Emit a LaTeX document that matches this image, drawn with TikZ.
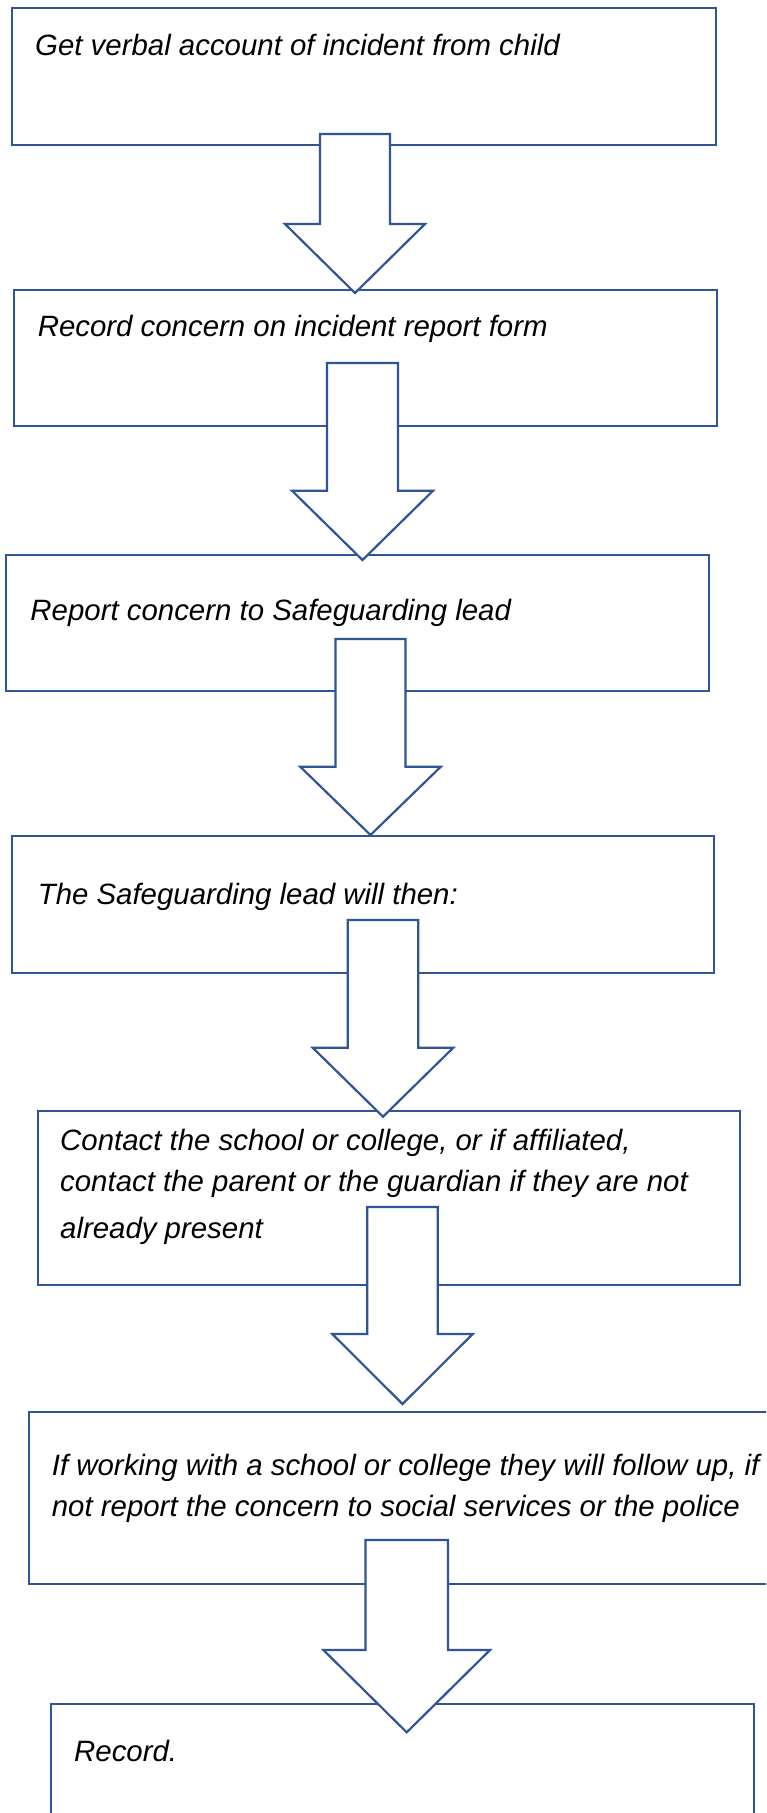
\documentclass[tikz,border=0pt]{standalone}
\usepackage{fontspec}
\setmainfont{Liberation Sans}
\definecolor{boxblue}{RGB}{47,85,151}
\newcommand\blockarr[6]{% cx, shaft top, head base, tip, half shaft, half head
  \draw[arrowline] (#1-#5,#2) -- (#1+#5,#2) -- (#1+#5,#3) -- (#1+#6,#3) -- (#1,#4) -- (#1-#6,#3) -- (#1-#5,#3) -- cycle;}
\begin{document}
\begin{tikzpicture}[x=1pt,y=-1pt,
  flowbox/.style={draw=boxblue,line width=2.2pt,fill=white,anchor=north west,inner sep=0pt,outer sep=0pt},
  arrowline/.style={draw=boxblue,line width=2.2pt,fill=white,line join=miter},
  label/.style={anchor=base west,inner sep=0pt,font=\fontsize{29.4}{34}\selectfont\itshape}]
\useasboundingbox (0,0) rectangle (766,1813);
\clip (0,0) rectangle (766,1813);
% boxes
\node[flowbox,minimum width=703.5pt,minimum height=136.7pt] (b1) at (12.2,8.3) {};
\node[flowbox,minimum width=703pt,minimum height=135.7pt] (b2) at (13.7,290) {};
\node[flowbox,minimum width=703.1pt,minimum height=136pt] (b3) at (5.9,555) {};
\node[flowbox,minimum width=702pt,minimum height=136.7pt] (b4) at (12.2,836) {};
\node[flowbox,minimum width=702.4pt,minimum height=174.3pt] (b5) at (37.6,1110.7) {};
\node[flowbox,minimum width=760pt,minimum height=172.3pt] (b6) at (29,1411.7) {};
\node[flowbox,minimum width=703pt,minimum height=140pt] (b7) at (50.8,1704) {};
% texts
\node[label] (t1) at (35,55) {Get verbal account of incident from child};
\node[label] (t2) at (37.6,336.7) {Record concern on incident report form};
\node[label] (t3) at (30.3,620) {Report concern to Safeguarding lead};
\node[label] (t4) at (37.6,904) {The Safeguarding lead will then:};
\node[label] (t5a) at (60,1150.7) {Contact the school or college, or if affiliated,};
\node[label] (t5b) at (60,1191) {contact the parent or the guardian if they are not};
\node[label] (t5c) at (60,1238) {already present};
\node[label] (t6a) at (51.7,1475) {If working with a school or college they will follow up, if};
\node[label] (t6b) at (51.7,1516) {not report the concern to social services or the police};
\node[label] (t7) at (74,1761.7) {Record.};
% block arrows
\blockarr{355}{134}{224}{293}{35}{70}
\blockarr{362.5}{363}{490.7}{560}{35.5}{70.5}
\blockarr{370.5}{639}{766.7}{835}{35}{70.3}
\blockarr{383}{920}{1047.7}{1116.7}{35.2}{70.3}
\blockarr{402.5}{1207}{1334}{1404}{35.3}{70.2}
\blockarr{406.7}{1540}{1650}{1732.3}{41.3}{83.3}
\end{tikzpicture}
\end{document}
